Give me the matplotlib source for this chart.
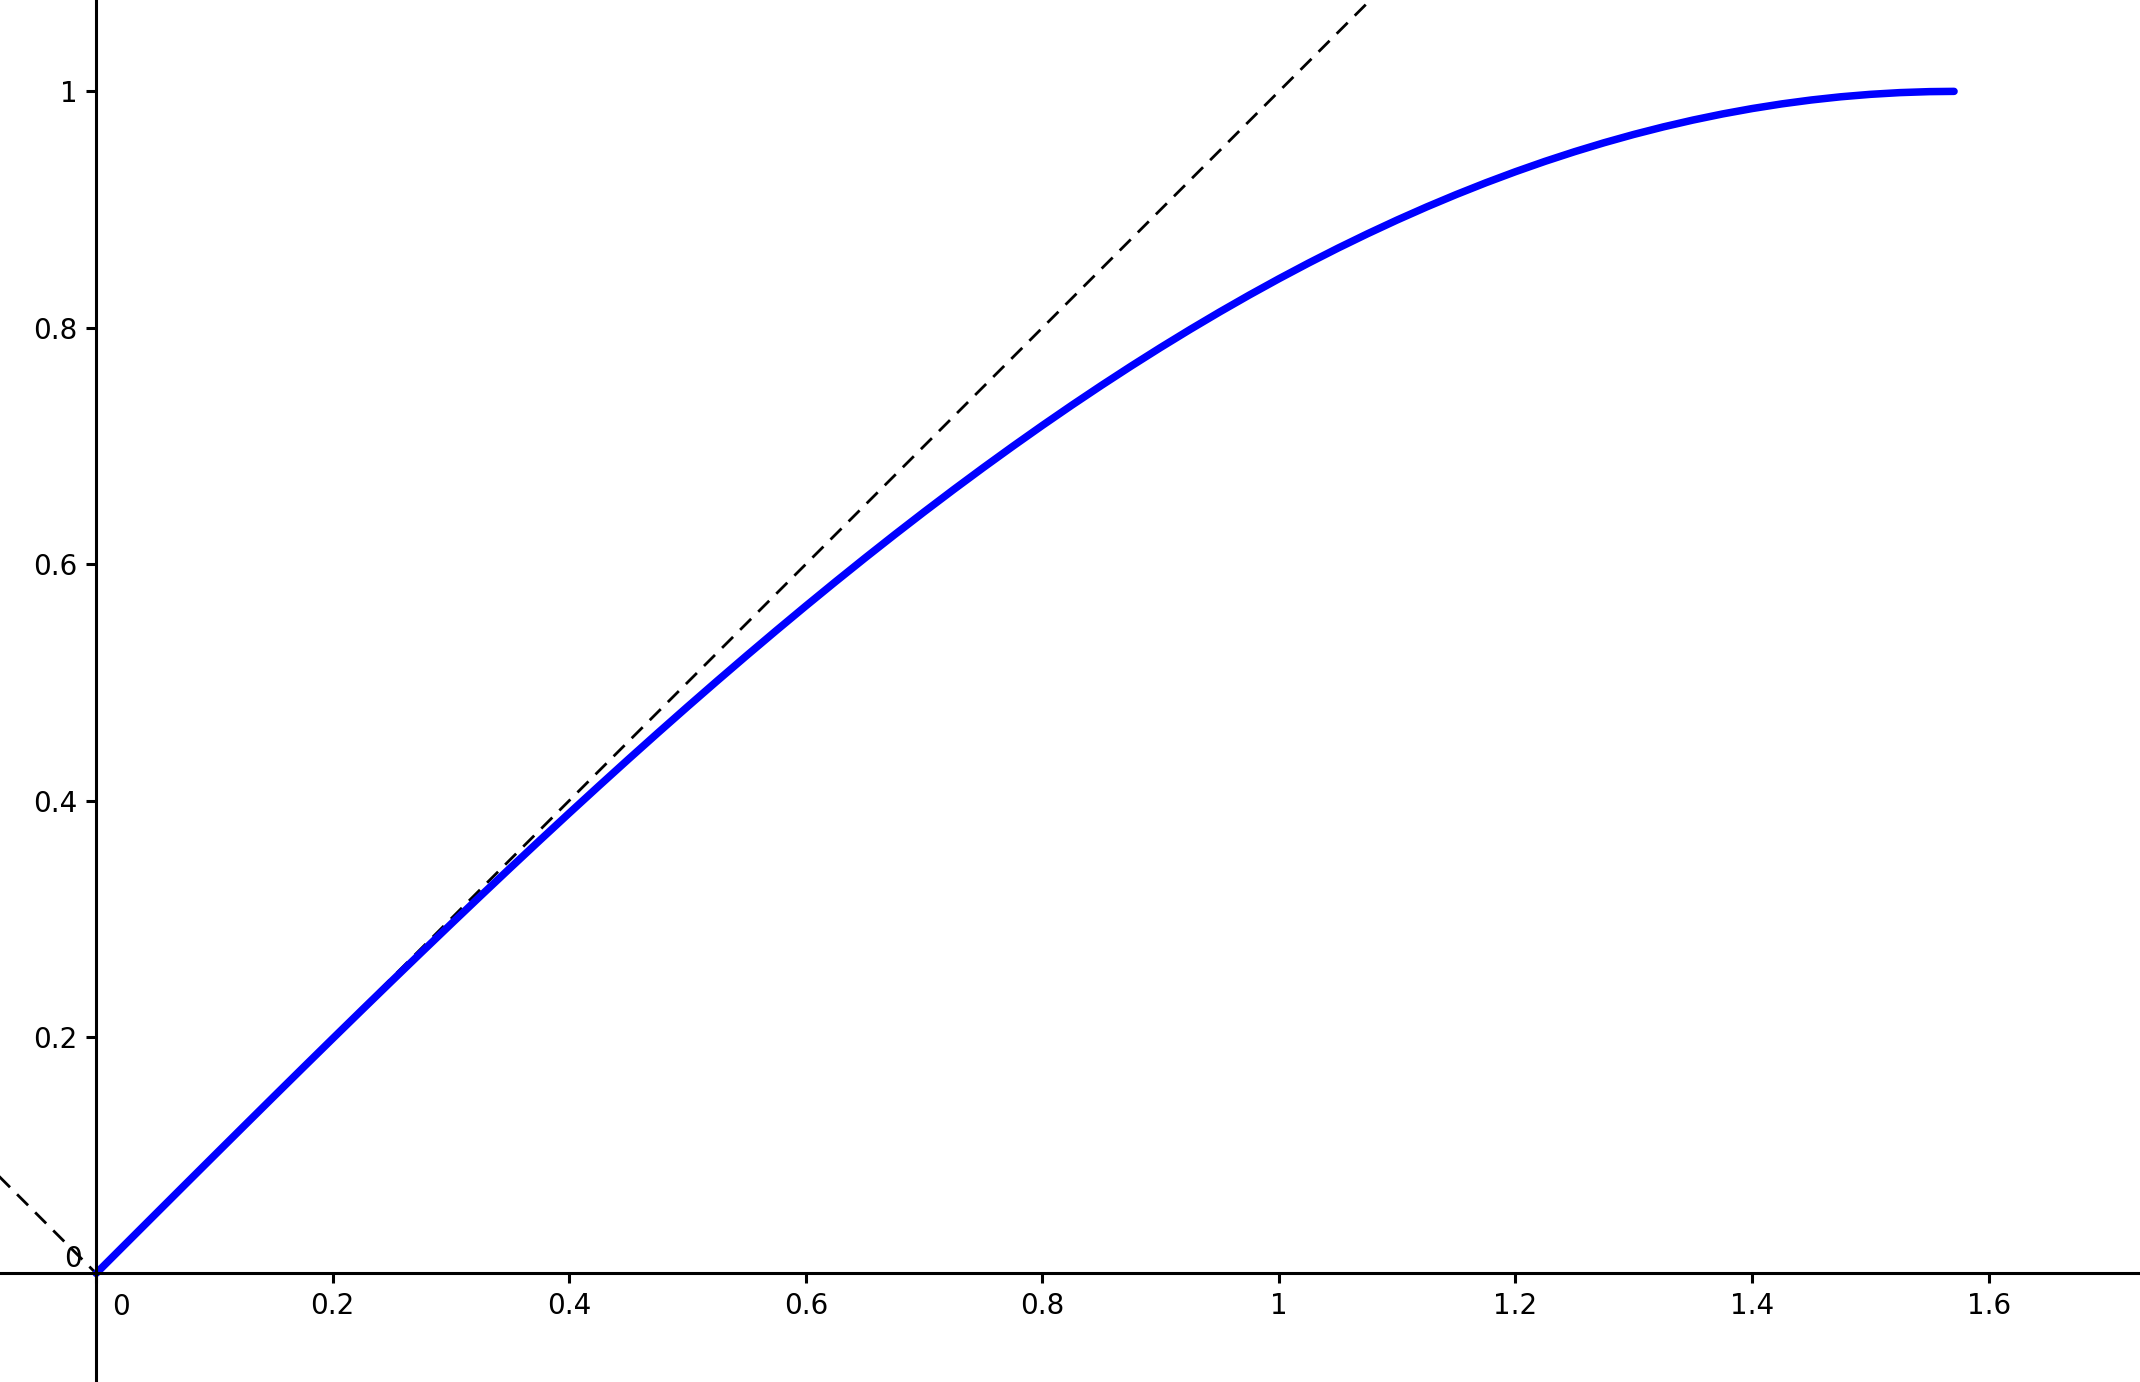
import matplotlib
matplotlib.use("Agg")
import matplotlib.pyplot as plt
from matplotlib.ticker import FixedLocator, FixedFormatter

plt.rcParams["lines.scale_dashes"] = False

# curve values (x, y)
curve_x = [0.0, 0.025, 0.05, 0.075, 0.1, 0.125, 0.15, 0.175, 0.2, 0.225,
           0.25, 0.275, 0.3, 0.325, 0.35, 0.375, 0.4, 0.425, 0.45, 0.475,
           0.5, 0.525, 0.55, 0.575, 0.6, 0.625, 0.65, 0.675, 0.7, 0.725,
           0.75, 0.775, 0.8, 0.825, 0.85, 0.875, 0.9, 0.925, 0.95, 0.975,
           1.0, 1.025, 1.05, 1.075, 1.1, 1.125, 1.15, 1.175, 1.2, 1.225,
           1.25, 1.275, 1.3, 1.325, 1.35, 1.375, 1.4, 1.425, 1.45, 1.475,
           1.5, 1.525, 1.55, 1.5708]
curve_y = [0.0, 0.02500, 0.04998, 0.07493, 0.09983, 0.12467, 0.14944, 0.17411,
           0.19867, 0.22311, 0.24740, 0.27155, 0.29552, 0.31931, 0.34290,
           0.36627, 0.38942, 0.41232, 0.43497, 0.45734, 0.47943, 0.50121,
           0.52269, 0.54383, 0.56464, 0.58510, 0.60519, 0.62490, 0.64422,
           0.66314, 0.68164, 0.69971, 0.71736, 0.73455, 0.75128, 0.76754,
           0.78333, 0.79862, 0.81342, 0.82771, 0.84147, 0.85471, 0.86742,
           0.87958, 0.89121, 0.90227, 0.91276, 0.92269, 0.93204, 0.94081,
           0.94898, 0.95657, 0.96356, 0.96994, 0.97572, 0.98089, 0.98545,
           0.98939, 0.99271, 0.99542, 0.99749, 0.99895, 0.99978, 1.0]

# dashed guide line
guide_x = [-0.2, 0.0, 1.2]
guide_y = [0.2, 0.0, 1.2]

x_ticks = [0, 0.2, 0.4, 0.6, 0.8, 1, 1.2, 1.4, 1.6]
x_labels = ["", "0.2", "0.4", "0.6", "0.8", "1", "1.2", "1.4", "1.6"]
y_ticks = [0.2, 0.4, 0.6, 0.8, 1]
y_labels = ["0.2", "0.4", "0.6", "0.8", "1"]

fig = plt.figure(figsize=(10.7, 6.91), dpi=200)
ax = fig.add_axes([0, 0, 1, 1])

ax.plot(guide_x, guide_y, color="black", lw=1.0, dashes=(5.6, 3.6))
ax.plot(curve_x, curve_y, color="#0000ff", lw=2.7,
        solid_capstyle="round", solid_joinstyle="round")

ax.set_xlim(-0.0813, 1.728)
ax.set_ylim(-0.0919, 1.0773)

for s in ["top", "right"]:
    ax.spines[s].set_visible(False)
ax.spines["left"].set_position("zero")
ax.spines["bottom"].set_position("zero")
ax.spines["left"].set_linewidth(1.1)
ax.spines["bottom"].set_linewidth(1.1)

ax.xaxis.set_major_locator(FixedLocator(x_ticks))
ax.xaxis.set_major_formatter(FixedFormatter(x_labels))
ax.yaxis.set_major_locator(FixedLocator(y_ticks))
ax.yaxis.set_major_formatter(FixedFormatter(y_labels))
ax.tick_params(direction="out", length=3.6, width=1.1, labelsize=10, pad=3)

# the two zero labels sit off the axes, as in the reference
ax.annotate("0", xy=(0, 0), xytext=(9, -7), textcoords="offset points",
            ha="center", va="top", fontsize=10)
ax.annotate("0", xy=(0, 0), xytext=(-5, 5), textcoords="offset points",
            ha="right", va="center", fontsize=10)

fig.savefig("out.png", dpi=200)
